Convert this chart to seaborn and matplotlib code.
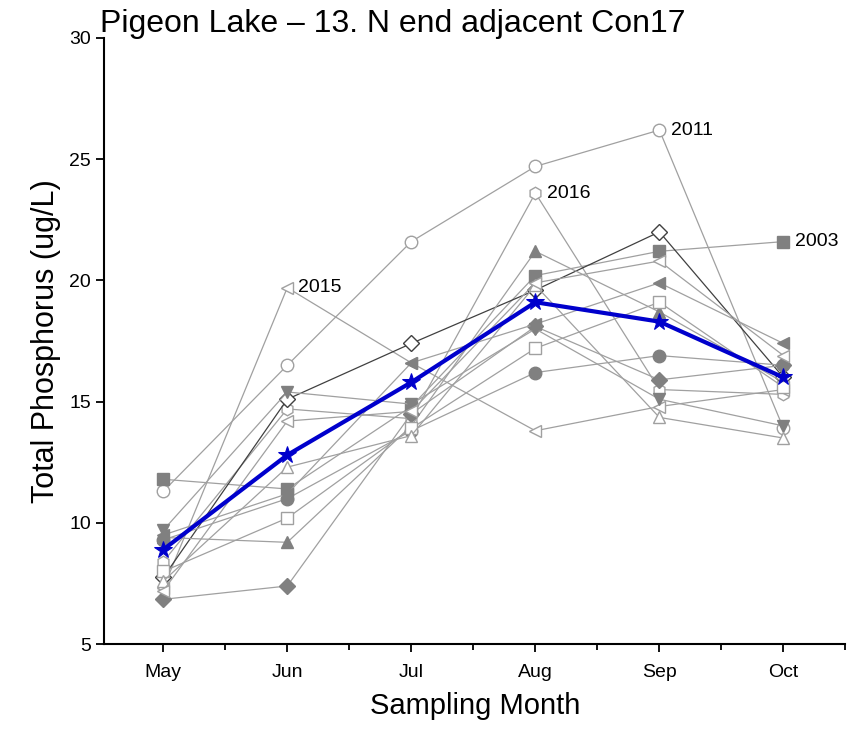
import matplotlib
matplotlib.use("Agg")
import matplotlib.pyplot as plt
from matplotlib.ticker import MultipleLocator
import seaborn as sns
import pandas as pd

months = ["May", "Jun", "Jul", "Aug", "Sep", "Oct"]

# Total phosphorus (ug/L) by sampling year
tp_2011 = [11.3, 16.5, 21.6, 24.7, 26.2, 13.9]
tp_2016 = [8.4, 14.7, 14.3, 23.6, 15.5, 15.3]
tp_2015 = [7.3, 19.7, 16.6, 13.8, 14.8, 15.5]
tp_2003 = [11.8, 11.4, 14.8, 20.2, 21.2, 21.6]
tp_diamond_open = [7.75, 15.1, 17.4, 19.6, 22.0, 16.0]
tp_tri_filled = [9.4, 9.2, 14.0, 21.2, 18.7, 15.8]
tp_diamond_filled = [6.85, 7.4, 14.5, 18.1, 15.9, 16.5]
tp_downtri_filled = [9.7, 15.4, 14.9, 18.0, 15.1, 14.0]
tp_circle_filled = [9.3, 11.0, 13.8, 16.2, 16.9, 16.5]
tp_lefttri_filled = [9.5, 11.2, 16.6, 18.2, 19.9, 17.4]
tp_square_open = [8.0, 10.2, 13.9, 17.2, 19.1, 15.6]
tp_tri_open = [7.6, 12.3, 13.6, 19.8, 14.35, 13.5]
tp_lefttri_open = [7.2, 14.2, 14.6, 19.9, 20.8, 16.9]
tp_mean = [8.9, 12.8, 15.8, 19.1, 18.3, 16.0]

series = [
    ("2011", tp_2011, "o", False),
    ("2016", tp_2016, "h", False),
    ("2015", tp_2015, "<", False),
    ("2003", tp_2003, "s", True),
    ("d_open", tp_diamond_open, "D", False),
    ("tri_f", tp_tri_filled, "^", True),
    ("d_f", tp_diamond_filled, "D", True),
    ("dt_f", tp_downtri_filled, "v", True),
    ("c_f", tp_circle_filled, "o", True),
    ("lt_f", tp_lefttri_filled, "<", True),
    ("sq_o", tp_square_open, "s", False),
    ("tri_o", tp_tri_open, "^", False),
    ("lt_o", tp_lefttri_open, "<", False),
]

sns.set_theme(style="ticks")
plt.rcParams["font.family"] = ["Liberation Sans", "DejaVu Sans"]
plt.rcParams["text.color"] = "black"
plt.rcParams["axes.labelcolor"] = "black"
plt.rcParams["xtick.color"] = "black"
plt.rcParams["ytick.color"] = "black"

fig = plt.figure(figsize=(8.54, 7.43), dpi=100)
ax = fig.add_axes([0.122, 0.133, 0.868, 0.816])

x = list(range(len(months)))
for name, vals, mk, filled in series:
    df = pd.DataFrame({"m": x, "tp": vals})
    line_col = "#404040" if name == "d_open" else "#a0a0a0"
    edge_col = "#404040" if name == "d_open" else ("#808080" if filled else "#a0a0a0")
    sns.lineplot(data=df, x="m", y="tp", ax=ax, color=line_col, lw=0.9,
                 marker=mk, markersize=9 if mk != "D" else 8,
                 markerfacecolor="#808080" if filled else "white",
                 markeredgecolor=edge_col, markeredgewidth=1.0, zorder=2)

dfm = pd.DataFrame({"m": x, "tp": tp_mean})
sns.lineplot(data=dfm, x="m", y="tp", ax=ax, color="#0000cc", lw=3,
             marker="*", markersize=13, markerfacecolor="#0000cc",
             markeredgecolor="#0000cc", zorder=5)

labels = {"2011": (4, tp_2011[4]), "2016": (3, tp_2016[3]),
          "2015": (1, tp_2015[1]), "2003": (5, tp_2003[5])}
for txt, (xi, yv) in labels.items():
    ax.text(xi + 0.09, yv, txt, fontsize=14, va="center", ha="left", color="black")

ax.set_xlim(-0.476, 5.5)
ax.set_ylim(5, 30)
ax.set_xticks(x)
ax.set_xticklabels(months)
ax.xaxis.set_minor_locator(MultipleLocator(0.5))
ax.yaxis.set_major_locator(MultipleLocator(5))
ax.tick_params(axis="both", which="major", labelsize=14, length=6, width=1.3, color="black",
               labelcolor="black")
ax.tick_params(axis="x", which="minor", length=4, width=1.3, color="black")
ax.tick_params(axis="x", pad=8)
for sp in ["top", "right"]:
    ax.spines[sp].set_visible(False)
for sp in ["left", "bottom"]:
    ax.spines[sp].set_linewidth(1.5)
    ax.spines[sp].set_color("black")

ax.set_xlabel("Sampling Month", fontsize=21, labelpad=8, color="black")
ax.set_ylabel("Total Phosphorus (ug/L)", fontsize=22, labelpad=6, color="black")
fig.text(0.117, 0.968, "Pigeon Lake \u2013 13. N end adjacent Con17", fontsize=23,
         ha="left", va="center", color="black")

fig.savefig("out.png", dpi=100)
